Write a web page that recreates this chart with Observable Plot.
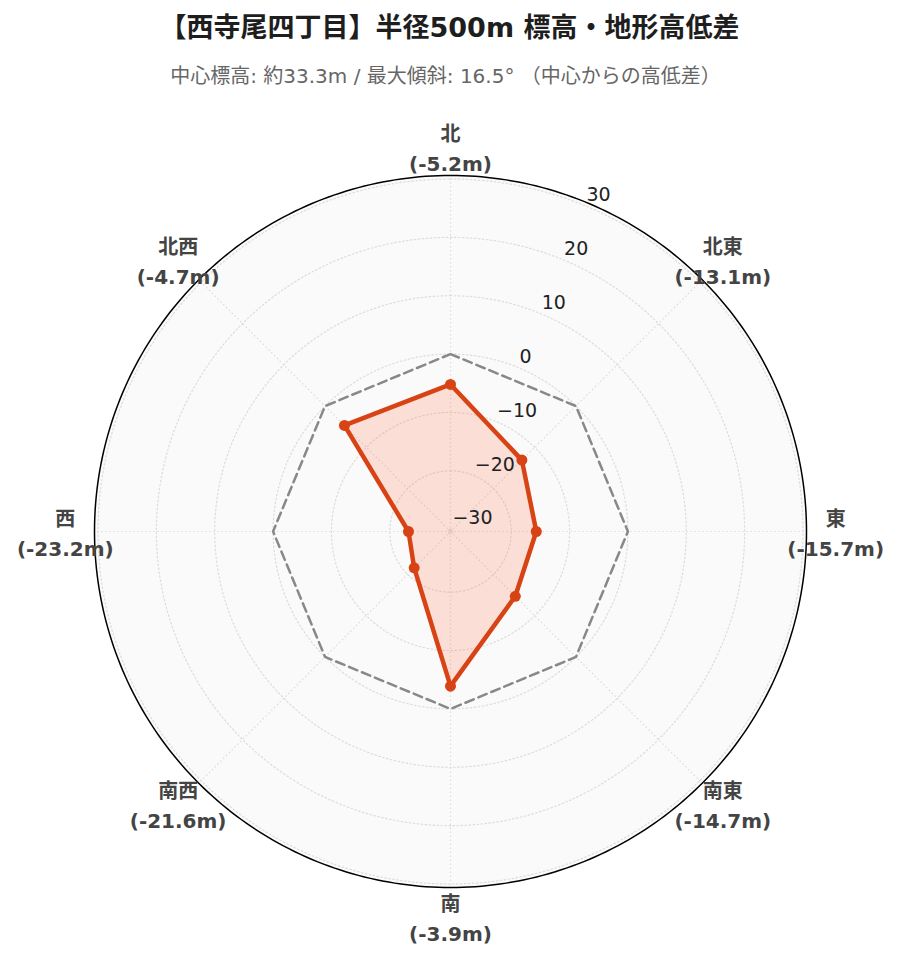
<!DOCTYPE html>
<html><head><meta charset="utf-8">
<script src="https://cdn.jsdelivr.net/npm/d3@7"></script>
<script src="https://cdn.jsdelivr.net/npm/@observablehq/plot@0.6"></script>
<style>
body{margin:0;background:#fff;font-family:"DejaVu Sans","Noto Sans CJK JP",sans-serif;}
#title{height:56px;line-height:56px;text-align:center;font-size:27px;font-weight:bold;color:#1e1e1e;white-space:nowrap;}
#subtitle{height:40px;line-height:40px;text-align:center;font-size:20px;color:#666;white-space:nowrap;padding-right:8px;}
#chart svg{display:block;}
</style></head><body>
<div id="title">【西寺尾四丁目】半径500m 標高・地形高低差</div>
<div id="subtitle">中心標高: 約33.3m / 最大傾斜: 16.5° （中心からの高低差）</div>
<div id="chart"></div>
<script>
// ---- data ----
const directions = ["北", "北東", "東", "南東", "南", "南西", "西", "北西"];
const angles = [0, 45, 90, 135, 180, 225, 270, 315];
const elevationDiffs = [-5.2, -13.1, -15.7, -14.7, -3.9, -21.6, -23.2, -4.7];
const radialTicks = [-30, -20, -10, 0, 10, 20, 30];
const radialRange = [-30.4, 30.6];
const radialAxisAngle = 22.5;

// ---- helpers ----
const toRad = a => a * Math.PI / 180;
const rx = (v, a) => (v - radialRange[0]) * Math.sin(toRad(a));
const ry = (v, a) => (v - radialRange[0]) * Math.cos(toRad(a));
const D = radialRange[1] - radialRange[0];
const labelOffset = 1.082;

const points = directions.map((name, i) => ({name, angle: angles[i], value: elevationDiffs[i]}));
const circle = v => d3.range(0, 361, 1).map(a => ({a, v}));
const gridRings = radialTicks.flatMap(t => circle(t).map(d => ({...d, t})));
const zeroRing = angles.map(a => ({a, v: 0}));
const X = d => rx(d.v, d.a), Y = d => ry(d.v, d.a);
const PX = d => rx(d.value, d.angle), PY = d => ry(d.value, d.angle);
const fmt = t => String(t).replace("-", "\u2212");

const chart = Plot.plot({
  width: 899, height: 866, margin: 0,
  x: {domain: [-D, D], range: [94, 806], axis: null},
  y: {domain: [-D, D], range: [791, 79], axis: null},
  style: {fontFamily: '"DejaVu Sans","Noto Sans CJK JP",sans-serif', background: "transparent", overflow: "visible"},
  marks: [
    Plot.line(circle(radialRange[1]), {x: X, y: Y, fill: "#fafafa", stroke: "none"}),
    Plot.line(gridRings, {x: X, y: Y, z: "t", stroke: "#dcdcdc", strokeWidth: 1.2, strokeDasharray: "1.5,2.5"}),
    Plot.link(angles, {x1: a => rx(radialRange[0], a), y1: a => ry(radialRange[0], a),
                       x2: a => rx(radialRange[1], a), y2: a => ry(radialRange[1], a),
                       stroke: "#dcdcdc", strokeWidth: 1.2, strokeDasharray: "1.5,2.5"}),
    Plot.line(zeroRing, {x: X, y: Y, curve: "linear-closed", stroke: "#888", strokeWidth: 2.5, strokeDasharray: "9,5"}),
    Plot.line(points, {x: PX, y: PY, curve: "linear-closed", fill: "#ff7043", fillOpacity: 0.2,
                       stroke: "#d84315", strokeWidth: 4.5, strokeLinejoin: "round"}),
    Plot.dot(points, {x: PX, y: PY, r: 5.5, fill: "#d84315", stroke: "none"}),
    Plot.line(circle(radialRange[1]), {x: X, y: Y, stroke: "#000", strokeWidth: 1.5}),
    Plot.text(radialTicks, {x: t => rx(t, radialAxisAngle), y: t => ry(t, radialAxisAngle), text: fmt,
                            textAnchor: "start", dx: 1, dy: -11, fontSize: 19, fill: "#222"}),
    Plot.text(points, {x: d => D * labelOffset * Math.sin(toRad(d.angle)),
                       y: d => D * labelOffset * Math.cos(toRad(d.angle)),
                       text: d => `${d.name}\n(${d.value.toFixed(1)}m)`,
                       lineHeight: 1.5, fontSize: 20, fontWeight: "bold", fill: "#444"})
  ]
});
document.getElementById("chart").appendChild(chart);
</script>
</body></html>
